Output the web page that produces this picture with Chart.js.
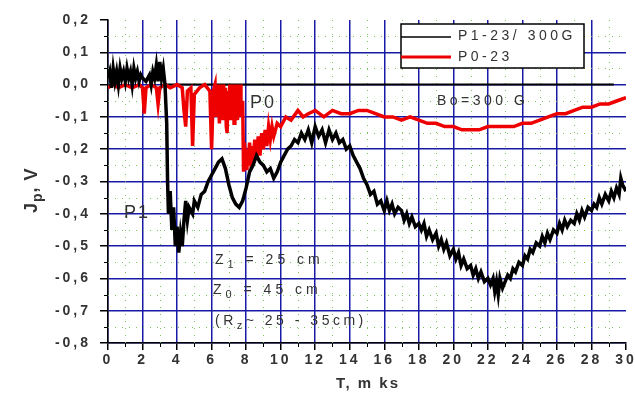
<!DOCTYPE html>
<html>
<head>
<meta charset="utf-8">
<script src="https://cdn.jsdelivr.net/npm/chart.js@4.4.1/dist/chart.umd.min.js"></script>
<style>
  html, body { margin: 0; padding: 0; background: #fff; }
</style>
</head>
<body>
<canvas id="chart" width="635" height="409"></canvas>
<script>
// P1-23 / 300G (black)
const p1T = [0, 0.1, 0.2, 0.3, 0.4, 0.5, 0.6, 0.7, 0.8, 0.9, 1.0, 1.1, 1.2, 1.3, 1.4, 1.5, 1.6, 1.7, 1.8, 1.9,
  2.0, 2.2, 2.4, 2.5, 2.6, 2.7, 2.8, 2.9, 3.0, 3.1, 3.2, 3.3, 3.4, 3.45, 3.5, 3.6, 3.7, 3.8, 3.9, 4.0,
  4.1, 4.2, 4.3, 4.4, 4.5, 4.6, 4.7, 4.9, 5.0, 5.2, 5.4, 5.6, 5.8, 6.0, 6.2, 6.4, 6.6, 6.8, 7.0, 7.2,
  7.4, 7.6, 7.8, 8.0, 8.2, 8.4, 8.6, 8.8, 9.0, 9.2, 9.4, 9.6, 9.8, 10.0, 10.2, 10.4, 10.6, 10.8, 11.0, 11.2,
  11.4, 11.6, 11.8, 12.0, 12.2, 12.4, 12.6, 12.8, 13.0, 13.2, 13.4, 13.6, 13.8, 14.0, 14.2, 14.4, 14.6, 14.8, 15.0, 15.2,
  15.4, 15.6, 15.8, 16.0, 16.15, 16.3, 16.45, 16.6, 16.8, 17.0, 17.15, 17.3, 17.45, 17.6, 17.8, 18.0, 18.15, 18.3, 18.45, 18.6,
  18.8, 19.0, 19.15, 19.3, 19.45, 19.6, 19.8, 20.0, 20.15, 20.3, 20.45, 20.6, 20.8, 21.0, 21.15, 21.3, 21.45, 21.6, 21.8, 22.0,
  22.15, 22.3, 22.4, 22.5, 22.6, 22.7, 22.85, 23.0, 23.15, 23.3, 23.45, 23.6, 23.8, 24.0, 24.15, 24.3, 24.45, 24.6, 24.8, 25.0,
  25.15, 25.3, 25.45, 25.6, 25.8, 26.0, 26.15, 26.3, 26.45, 26.6, 26.8, 27.0, 27.15, 27.3, 27.45, 27.6, 27.8, 28.0, 28.15, 28.3,
  28.45, 28.6, 28.8, 29.0, 29.15, 29.3, 29.45, 29.6, 29.7, 29.8, 30.0];
const p1V = [0.02, 0.04, -0.01, 0.05, 0.01, 0.04, 0.0, 0.05, 0.02, 0.04, 0.01, 0.05, 0.02, 0.04, 0.0, 0.05, 0.02, 0.04, 0.01, 0.03,
  0.02, 0.01, 0.03, 0.0, 0.04, 0.02, 0.06, 0.01, 0.07, 0.02, 0.05, 0.0, -0.12, -0.3, -0.4, -0.33, -0.45, -0.38, -0.5, -0.44,
  -0.52, -0.46, -0.5, -0.42, -0.36, -0.42, -0.38, -0.4, -0.36, -0.38, -0.34, -0.33, -0.3, -0.28, -0.26, -0.24, -0.23, -0.26, -0.31, -0.35,
  -0.37, -0.38, -0.36, -0.32, -0.27, -0.25, -0.22, -0.24, -0.25, -0.27, -0.26, -0.29, -0.27, -0.24, -0.22, -0.2, -0.19, -0.17, -0.18, -0.15,
  -0.17, -0.14, -0.18, -0.13, -0.16, -0.14, -0.18, -0.14, -0.17, -0.15, -0.18, -0.17, -0.2, -0.19, -0.22, -0.24, -0.26, -0.29, -0.31, -0.34,
  -0.33, -0.37, -0.36, -0.39, -0.36, -0.39, -0.37, -0.4, -0.38, -0.39, -0.42, -0.4, -0.43, -0.41, -0.44, -0.43, -0.45, -0.43, -0.47, -0.45,
  -0.48, -0.46, -0.5, -0.48, -0.51, -0.49, -0.53, -0.51, -0.54, -0.52, -0.56, -0.54, -0.57, -0.56, -0.59, -0.57, -0.6, -0.58, -0.61, -0.6,
  -0.62, -0.6, -0.64, -0.61, -0.65, -0.6, -0.63, -0.61, -0.59, -0.6, -0.57, -0.58, -0.55, -0.56, -0.53, -0.54, -0.51, -0.52, -0.49, -0.5,
  -0.47, -0.49, -0.46, -0.48, -0.45, -0.46, -0.43, -0.45, -0.42, -0.44, -0.42, -0.43, -0.4, -0.42, -0.39, -0.41, -0.38, -0.39, -0.37, -0.38,
  -0.35, -0.37, -0.34, -0.36, -0.33, -0.35, -0.32, -0.34, -0.29, -0.31, -0.33];

// P0-23 (red)
const p0T = [0, 0.3, 0.6, 1.0, 1.4, 1.8, 2.0, 2.1, 2.2, 2.5, 2.8, 2.9, 3.0, 3.3, 3.6, 4.0, 4.3, 4.4, 4.5, 4.6,
  4.8, 4.9, 5.0, 5.3, 5.6, 5.9, 6.0, 6.1, 6.2, 6.25, 6.3, 6.35, 6.4, 6.45, 6.5, 6.55, 6.6, 6.65, 6.7, 6.75,
  6.8, 6.85, 6.9, 6.95, 7.0, 7.05, 7.1, 7.15, 7.2, 7.25, 7.3, 7.35, 7.4, 7.45, 7.5, 7.55, 7.6, 7.65, 7.7, 7.8,
  7.85, 7.9, 8.0, 8.05, 8.1, 8.2, 8.3, 8.35, 8.4, 8.5, 8.6, 8.7, 8.8, 8.9, 9.0, 9.1, 9.2, 9.3, 9.4, 9.5,
  9.6, 9.8, 10.0, 10.3, 10.6, 11.0, 11.3, 11.6, 12.0, 12.5, 13.0, 13.5, 14.0, 14.5, 15.0, 15.5, 16.0, 16.5, 17.0, 17.5,
  18.0, 18.5, 19.0, 19.5, 20.0, 20.5, 21.0, 21.5, 22.0, 22.5, 23.0, 23.5, 24.0, 24.5, 25.0, 25.5, 26.0, 26.5, 27.0, 27.5,
  28.0, 28.5, 29.0, 29.5, 30.0];
const p0V = [-0.01, 0.0, -0.01, 0.0, -0.01, 0.0, -0.01, -0.09, -0.01, 0.0, -0.01, -0.06, -0.01, 0.0, -0.01, 0.0, -0.01, -0.08, -0.13, -0.02,
  -0.01, -0.19, -0.03, -0.01, 0.0, -0.02, -0.2, -0.02, 0.0, -0.1, 0.0, -0.08, -0.01, -0.12, 0.0, -0.09, -0.02, -0.11, 0.0, -0.1,
  -0.01, -0.13, -0.15, -0.02, -0.1, 0.0, -0.11, -0.01, -0.09, 0.0, -0.12, -0.02, -0.1, 0.0, -0.11, -0.01, -0.09, 0.0, -0.1, -0.05,
  -0.27, -0.18, -0.26, -0.2, -0.25, -0.18, -0.26, -0.19, -0.24, -0.17, -0.23, -0.16, -0.22, -0.15, -0.2, -0.14, -0.19, -0.13, -0.17, -0.13,
  -0.16, -0.12, -0.13, -0.1, -0.11, -0.08, -0.1, -0.09, -0.08, -0.1, -0.08, -0.09, -0.09, -0.08, -0.08, -0.09, -0.1, -0.1, -0.11, -0.1,
  -0.11, -0.12, -0.12, -0.13, -0.13, -0.14, -0.14, -0.14, -0.13, -0.13, -0.13, -0.13, -0.12, -0.12, -0.11, -0.1, -0.09, -0.09, -0.08, -0.07,
  -0.07, -0.06, -0.06, -0.05, -0.04];

// flat black reference line at zero
const zeroT = [3.3, 29.3];
const zeroV = [0, 0];

const seriesLabels = ['P1-23/ 300G', 'P0-23'];
const xTicksStep = 2;
const yTicksStep = 0.1;

const FONT = '"Liberation Sans", Arial, sans-serif';
const BLUE = '#1a1aa8';
const TEXT = '#333';

function toPoints(xs, ys) {
    return xs.map((x, i) => ({ x: x, y: ys[i] }));
}

function drawParts(ctx, x, y, parts, size) {
    let cx = x;
    parts.forEach(p => {
        ctx.font = (p.bold ? 'bold ' : '') + (p.sub ? Math.round(size * 0.75) : size) + 'px ' + FONT;
        ctx.fillText(p.t, cx, p.sub ? y + size * 0.35 : y);
        cx += ctx.measureText(p.t).width;
    });
}

const decor = {
    id: 'decor',
    beforeDraw(chart) {
        chart.ctx.letterSpacing = '3px';
    },
    beforeDatasetsDraw(chart) {
        const ctx = chart.ctx;
        const xs = chart.scales.x, ys = chart.scales.y;
        const a = chart.chartArea;
        ctx.save();
        ctx.letterSpacing = '0px';
        // green dotted minor grid
        ctx.strokeStyle = 'rgba(110,190,80,0.9)';
        ctx.lineWidth = 1;
        ctx.setLineDash([1, 6]);
        for (let v = 1; v < 30; v += 2) {
            const px = Math.round(xs.getPixelForValue(v)) + 0.5;
            ctx.beginPath(); ctx.moveTo(px, a.top); ctx.lineTo(px, a.bottom); ctx.stroke();
        }
        for (let k = 0; k < 10; k++) {
            const py = Math.round(ys.getPixelForValue(0.15 - k * 0.1)) + 0.5;
            ctx.beginPath(); ctx.moveTo(a.left, py); ctx.lineTo(a.right, py); ctx.stroke();
        }
        ctx.setLineDash([]);
        // minor ticks
        ctx.strokeStyle = '#000';
        ctx.lineWidth = 1;
        for (let v = 1; v < 30; v += 2) {
            const px = Math.round(xs.getPixelForValue(v)) + 0.5;
            ctx.beginPath(); ctx.moveTo(px, a.bottom); ctx.lineTo(px, a.bottom + 4); ctx.stroke();
        }
        for (let k = 0; k < 10; k++) {
            const py = Math.round(ys.getPixelForValue(0.15 - k * 0.1)) + 0.5;
            ctx.beginPath(); ctx.moveTo(a.left, py); ctx.lineTo(a.left - 4, py); ctx.stroke();
        }
        ctx.restore();
    },
    afterDraw(chart) {
        const ctx = chart.ctx;
        ctx.save();
        ctx.fillStyle = TEXT;
        ctx.textBaseline = 'middle';

        // axis titles
        ctx.letterSpacing = '2px';
        ctx.textAlign = 'center';
        ctx.font = 'bold 15px ' + FONT;
        ctx.fillText('T, m ks', 368, 384);

        ctx.save();
        ctx.translate(32, 183);
        ctx.rotate(-Math.PI / 2);
        ctx.textAlign = 'left';
        ctx.letterSpacing = '1px';
        drawParts(ctx, -30, 0, [{ t: 'J', bold: true }, { t: 'p', sub: true, bold: true }, { t: ', V', bold: true }], 18);
        ctx.restore();

        // annotations
        ctx.textAlign = 'left';
        ctx.letterSpacing = '2px';
        ctx.font = '18px ' + FONT;
        ctx.fillText('P0', 250, 103);
        ctx.fillText('P1', 124, 213);

        ctx.letterSpacing = '3.5px';
        ctx.font = '14px ' + FONT;
        ctx.fillText('Bo=300 G', 437, 101);
        ctx.letterSpacing = '4px';
        drawParts(ctx, 215, 260, [{ t: 'Z' }, { t: '1', sub: true }, { t: ' = 25 cm' }], 14);
        drawParts(ctx, 213, 290, [{ t: 'Z' }, { t: '0', sub: true }, { t: ' = 45 cm' }], 14);
        ctx.letterSpacing = '3.5px';
        drawParts(ctx, 215, 321, [{ t: '(R' }, { t: 'z', sub: true }, { t: '~ 25 - 35cm)' }], 14);

        // legend
        ctx.fillStyle = '#fff';
        ctx.fillRect(401, 24, 183, 44);
        ctx.strokeStyle = '#000';
        ctx.lineWidth = 1.5;
        ctx.strokeRect(401, 24, 183, 44);
        ctx.lineWidth = 1.5;
        ctx.beginPath(); ctx.moveTo(401, 37); ctx.lineTo(451, 37); ctx.stroke();
        ctx.strokeStyle = '#ee0000';
        ctx.lineWidth = 3;
        ctx.beginPath(); ctx.moveTo(401, 57); ctx.lineTo(451, 57); ctx.stroke();
        ctx.fillStyle = TEXT;
        ctx.font = '14px ' + FONT;
        ctx.letterSpacing = '3.5px';
        ctx.fillText(seriesLabels[0], 458, 36);
        ctx.fillText(seriesLabels[1], 458, 57);
        ctx.restore();
    }
};

const ctx = document.getElementById('chart').getContext('2d');
new Chart(ctx, {
    type: 'scatter',
    data: {
        datasets: [
            {
                label: seriesLabels[0],
                data: toPoints(p1T, p1V),
                showLine: true,
                borderColor: '#000',
                borderWidth: 3.5,
                pointRadius: 0,
                order: 0
            },
            {
                label: seriesLabels[1],
                data: toPoints(p0T, p0V),
                showLine: true,
                borderColor: '#ee0000',
                borderWidth: 3.5,
                pointRadius: 0,
                order: 1
            },
            {
                label: '',
                data: toPoints(zeroT, zeroV),
                showLine: true,
                borderColor: '#000',
                borderWidth: 2,
                pointRadius: 0,
                order: 2
            }
        ]
    },
    options: {
        responsive: false,
        animation: false,
        layout: { padding: { top: 20, right: 9, left: 0, bottom: 0 } },
        plugins: {
            legend: { display: false },
            tooltip: { enabled: false }
        },
        scales: {
            x: {
                type: 'linear',
                min: 0,
                max: 30,
                ticks: {
                    stepSize: xTicksStep,
                    color: TEXT,
                    font: { family: FONT, size: 14, weight: 'bold' },
                    padding: 2,
                    maxRotation: 0
                },
                grid: {
                    color: c => (c.tick && c.tick.value === 30) ? 'rgba(0,0,0,0)' : BLUE,
                    lineWidth: 1.5,
                    tickColor: '#000',
                    tickLength: 7
                },
                border: { color: '#000', width: 1.5 },
                afterFit: s => { s.height = 66; s.paddingLeft = 0; s.paddingRight = 0; }
            },
            y: {
                min: -0.8,
                max: 0.2,
                ticks: {
                    stepSize: yTicksStep,
                    color: TEXT,
                    font: { family: FONT, size: 14, weight: 'bold' },
                    padding: 9,
                    callback: v => Math.abs(v) < 1e-9 ? '0,0' : v.toFixed(1).replace('.', ',')
                },
                grid: {
                    color: c => (c.tick && Math.abs(c.tick.value - 0.2) < 1e-9) ? 'rgba(0,0,0,0)' : BLUE,
                    lineWidth: 1.5,
                    tickColor: '#000',
                    tickLength: 8
                },
                border: { color: '#000', width: 1.5 },
                afterFit: s => { s.width = 108; s.paddingTop = 0; s.paddingBottom = 0; }
            }
        }
    },
    plugins: [decor]
});
</script>
</body>
</html>
